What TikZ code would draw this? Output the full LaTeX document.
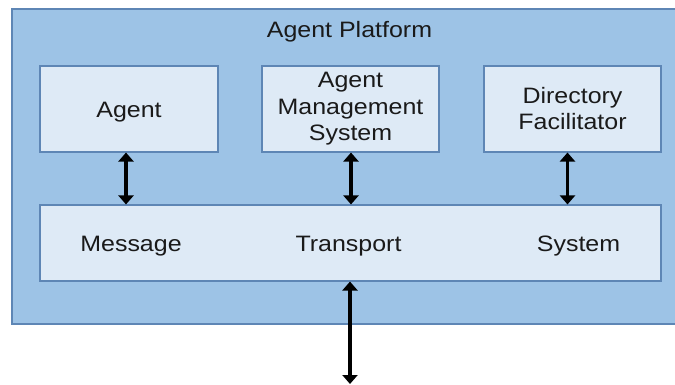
\documentclass[tikz,border=0pt]{standalone}
\usepackage{fontspec}
\setmainfont{Liberation Sans}[FakeStretch=1.12]
\usetikzlibrary{arrows.meta,calc}
\definecolor{outerfill}{HTML}{9DC3E6}
\definecolor{innerfill}{HTML}{DEEAF6}
\definecolor{edgeblue}{HTML}{5E86B5}
\definecolor{txt}{HTML}{1A1A1A}
\tikzset{
  outerbox/.style={draw=edgeblue, fill=outerfill, line width=1.3pt, inner sep=0pt},
  innerbox/.style={draw=edgeblue, fill=innerfill, line width=1.1pt, inner sep=0pt, align=center, text=txt},
  lbl/.style={text=txt, inner sep=0pt},
  dblarr/.style={line width=3.4pt, {Triangle[width=15pt,length=9pt]}-{Triangle[width=15pt,length=9pt]}, black},
}
\begin{document}
\begin{tikzpicture}[x=1pt,y=-1pt, font=\fontsize{22.3}{26}\selectfont]
\useasboundingbox (0,0) rectangle (675,385);
\fill[white] (0,0) rectangle (675,385);
% outer platform
\node[outerbox, minimum width=668pt, minimum height=315pt] (platform) at (346,166.5) {};
\node[lbl, anchor=base] (title) at (349.5,37.7) {Agent Platform};
% boxes
\node[innerbox, minimum width=178pt, minimum height=86pt] (agent) at (129,109) {};
\node[lbl, anchor=base] (agentlbl) at (129,117.3) {Agent};
\node[innerbox, minimum width=177pt, minimum height=86pt] (ams) at (350.5,109) {};
\node[lbl, anchor=base] (ams1) at (350.5,88) {Agent};
\node[lbl, anchor=base] (ams2) at (350.5,114.5) {Management};
\node[lbl, anchor=base] (ams3) at (350.5,140.5) {System};
\node[innerbox, minimum width=177pt, minimum height=86pt] (df) at (572.5,109) {};
\node[lbl, anchor=base] (df1) at (572.5,104) {Directory};
\node[lbl, anchor=base] (df2) at (572.5,130) {Facilitator};
\node[innerbox, minimum width=621pt, minimum height=76pt] (mts) at (350.5,243) {};
\node[lbl, anchor=base] (m1) at (131,251) {Message};
\node[lbl, anchor=base] (m2) at (348.5,251) {Transport};
\node[lbl, anchor=base] (m3) at (578.5,251) {System};
% arrows
\coordinate (ext) at (350,384);
\draw[dblarr] ([xshift=-3pt]agent.south) -- ([xshift=-3pt]agent.south |- mts.north);
\draw[dblarr] ([xshift=0.5pt]ams.south) -- ([xshift=0.5pt]ams.south |- mts.north);
\draw[dblarr] ([xshift=-5pt]df.south) -- ([xshift=-5pt]df.south |- mts.north);
\draw[dblarr] (mts.south -| ext) -- (ext);
\end{tikzpicture}
\end{document}
